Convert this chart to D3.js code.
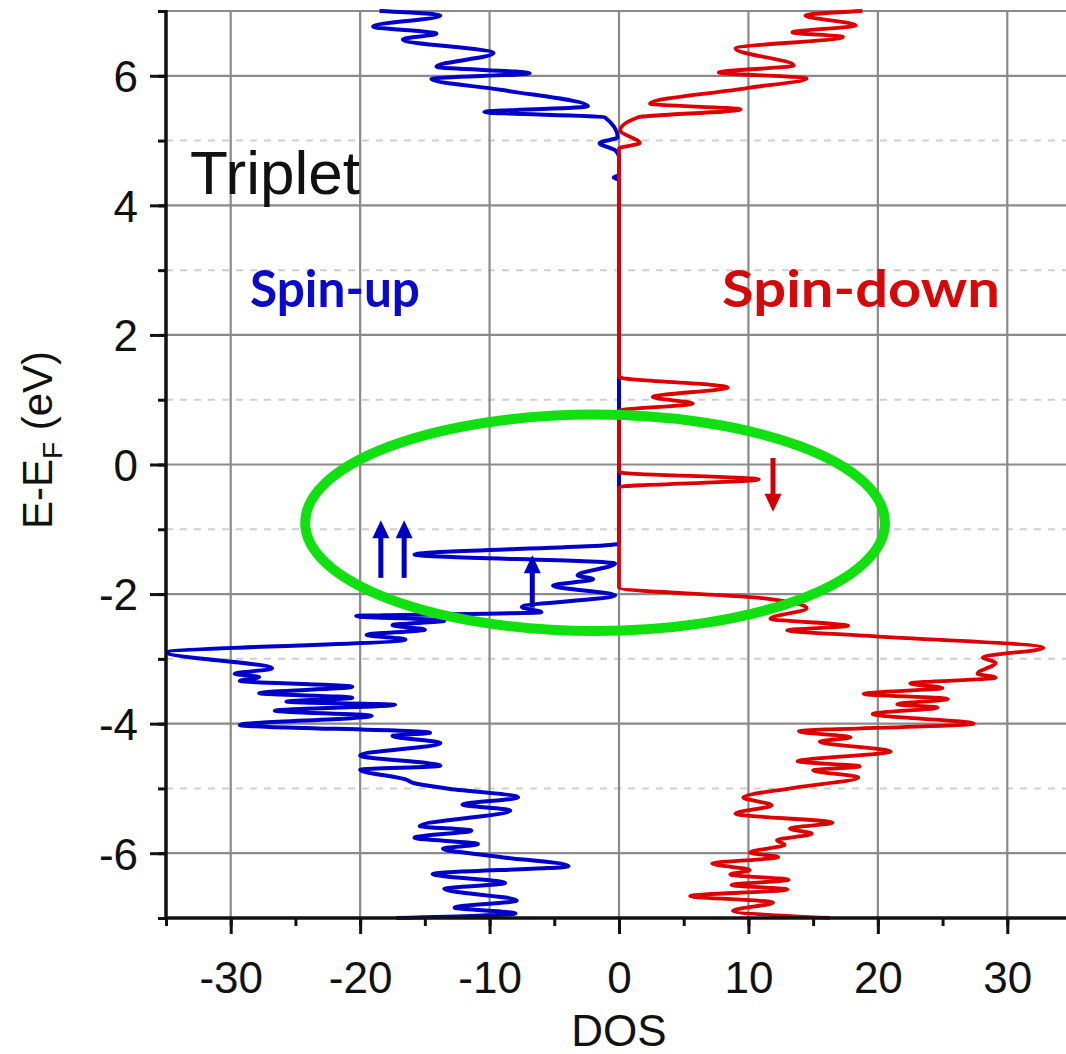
<!DOCTYPE html>
<html><head><meta charset="utf-8">
<script src="https://cdn.jsdelivr.net/npm/d3@7"></script>
<style>html,body{margin:0;padding:0;background:#fff;overflow:hidden}</style>
</head><body>
<svg id="chart" width="1066" height="1054"></svg>
<script>
// ---- data ----
const xTicks = [-30, -20, -10, 0, 10, 20, 30];
const yTicks = [-6, -4, -2, 0, 2, 4, 6];
const seriesNames = ["Spin-up", "Spin-down"];

const upEnergy = [7.00, 6.93, 6.76, 6.65, 6.56, 6.35, 6.14, 6.04, 5.95, 5.78, 5.53, 5.44, 5.36, 5.05, 4.96, 4.85, 4.75, 4.47, 4.43, 4.39,
  -1.22, -1.39, -1.53, -1.71, -1.77, -1.87, -2.02, -2.20, -2.28, -2.34, -2.41, -2.48, -2.55, -2.63, -2.70, -2.90,
  -3.15, -3.23, -3.28, -3.34, -3.43, -3.53, -3.60, -3.66, -3.71, -3.80, -3.88, -4.02, -4.14, -4.19, -4.30, -4.49,
  -4.65, -4.71, -4.86, -4.92, -5.00, -5.14, -5.25, -5.34, -5.58, -5.65, -5.76, -5.86, -5.93, -6.05, -6.20, -6.32,
  -6.46, -6.55, -6.73, -6.84, -6.93, -7.00];
const upDOS = [-18.5, -13.8, -19.0, -14.1, -16.7, -9.7, -14.1, -6.9, -14.5, -9.0, -2.4, -10.4, -1.1, -0.1, -1.5, -0.3, 0, 0, -0.4, 0,
  0, -15.8, -0.3, -3.2, -2.0, -5.1, -0.3, -7.5, -6.0, -20.3, -13.5, -17.5, -15.0, -19.5, -16.5, -34.9,
  -26.8, -29.7, -27.8, -29.3, -20.6, -27.8, -20.6, -25.7, -17.3, -26.6, -19.1, -29.3, -14.6, -17.5, -13.8, -20.0,
  -13.8, -20.0, -16.5, -15.8, -13.3, -7.8, -12.1, -8.4, -15.4, -11.4, -15.8, -10.9, -13.6, -9.5, -3.9, -14.4,
  -8.8, -13.5, -7.9, -12.7, -8.0, -17.2];

const downEnergy = [7.00, 6.93, 6.78, 6.67, 6.60, 6.42, 6.16, 6.05, 5.96, 5.81, 5.57, 5.48, 5.36, 5.16, 4.96, 4.88,
  1.35, 1.19, 1.04, 0.94, 0.83, -0.12, -0.23, -0.35, -1.90, -2.07, -2.22, -2.38, -2.49, -2.56, -2.64, -2.83,
  -2.98, -3.06, -3.23, -3.29, -3.38, -3.45, -3.54, -3.62, -3.70, -3.75, -3.85, -4.00, -4.12, -4.21, -4.28, -4.43,
  -4.58, -4.66, -4.72, -4.83, -4.99, -5.14, -5.26, -5.39, -5.53, -5.62, -5.70, -5.80, -5.87, -5.99, -6.06, -6.16,
  -6.26, -6.33, -6.41, -6.49, -6.56, -6.66, -6.76, -6.89, -7.00];
const downDOS = [18.8, 14.4, 18.3, 13.4, 17.3, 9.0, 13.5, 7.7, 14.5, 9.9, 2.4, 9.4, 1.5, 0.1, 1.6, 0,
  0, 8.4, 2.6, 5.7, 0, 0, 10.8, 0, 0, 11.4, 14.5, 11.7, 17.7, 13.0, 18.9, 32.8,
  28.1, 29.1, 27.7, 29.1, 22.5, 25.0, 18.9, 25.4, 21.5, 24.6, 19.6, 27.4, 13.9, 17.9, 15.5, 21.0,
  13.8, 18.6, 15.0, 18.5, 13.5, 9.6, 11.8, 9.0, 16.5, 13.2, 14.9, 12.2, 12.8, 10.1, 12.3, 7.2,
  10.1, 8.6, 13.1, 8.7, 13.0, 5.5, 11.9, 8.8, 16.3];

// annotation arrows: [dos, energy start, energy tip]
const upArrows = [[-18.4, -1.75, -0.86], [-16.6, -1.75, -0.86], [-6.7, -2.21, -1.40]];
const downArrows = [[11.9, 0.10, -0.73]];

// ---- layout ----
const svg = d3.select("#chart");
const x = d3.scaleLinear().domain([-35, 35]).range([166, 1072]);
const y = d3.scaleLinear().domain([7, -7]).range([11, 918]);
const FONT = "'Liberation Sans', Arial, sans-serif";
const blue = "#0000c8", red = "#dc0000";
const fmt = d => String(d);

const g = svg.append("g");

// minor dashed grid (odd energies)
g.selectAll(".minor").data(d3.range(-5, 6, 2)).join("line")
  .attr("x1", x(-35)).attr("x2", x(35)).attr("y1", d => y(d)).attr("y2", d => y(d))
  .attr("stroke", "#cfcfcf").attr("stroke-width", 2).attr("stroke-dasharray", "7,7");

// major grid
g.selectAll(".hg").data(yTicks.concat([7])).join("line")
  .attr("x1", x(-35)).attr("x2", x(35)).attr("y1", d => y(d)).attr("y2", d => y(d))
  .attr("stroke", "#8a8a8a").attr("stroke-width", 2.2);
g.selectAll(".vg").data(xTicks).join("line")
  .attr("x1", d => x(d)).attr("x2", d => x(d)).attr("y1", y(7)).attr("y2", y(-7))
  .attr("stroke", "#8a8a8a").attr("stroke-width", 2.2);

// curves
const line = d3.line().x(d => x(d[1])).y(d => y(d[0])).curve(d3.curveMonotoneY);
const upPts = upEnergy.map((e, i) => [e, upDOS[i]]);
const downPts = downEnergy.map((e, i) => [e, downDOS[i]]);
g.append("path").datum(upPts).attr("d", line).attr("fill", "none")
  .attr("stroke", blue).attr("stroke-width", 4).attr("stroke-linejoin", "round");
g.append("path").datum(downPts).attr("d", line).attr("fill", "none")
  .attr("stroke", red).attr("stroke-width", 3.8).attr("stroke-linejoin", "round");

// axes
const yAxis = d3.axisLeft(y).tickValues(yTicks).tickSize(16).tickFormat(fmt);
const yMinor = d3.axisLeft(y).tickValues(d3.range(-7, 8, 1)).tickSize(8).tickFormat("");
const xAxis = d3.axisBottom(x).tickValues(xTicks).tickSize(16).tickFormat(fmt);
const xMinor = d3.axisBottom(x).tickValues(d3.range(-35, 36, 5)).tickSize(8).tickFormat("");

function styleAxis(sel) {
  sel.select(".domain").remove();
  sel.selectAll("line").attr("stroke", "#111").attr("stroke-width", 3);
  sel.selectAll("text").attr("fill", "#111").style("font-family", FONT).style("font-size", "44px");
}
const gy = svg.append("g").attr("transform", `translate(${x(-35)},0)`).call(yMinor); styleAxis(gy);
const gy2 = svg.append("g").attr("transform", `translate(${x(-35)},0)`).call(yAxis); styleAxis(gy2);
gy2.selectAll("text").attr("x", -28).attr("dy", "0.36em");
const gx = svg.append("g").attr("transform", `translate(0,${y(-7)})`).call(xMinor); styleAxis(gx);
const gx2 = svg.append("g").attr("transform", `translate(0,${y(-7)})`).call(xAxis); styleAxis(gx2);
gx2.selectAll("text").attr("dy", null).attr("y", 75);

svg.append("line").attr("x1", x(-35)).attr("x2", x(-35)).attr("y1", y(7) - 1).attr("y2", y(-7))
  .attr("stroke", "#111").attr("stroke-width", 3.5);
svg.append("line").attr("x1", x(-35)).attr("x2", x(35)).attr("y1", y(-7)).attr("y2", y(-7))
  .attr("stroke", "#111").attr("stroke-width", 3.5);

// axis titles
svg.append("text").attr("x", x(0)).attr("y", 1046).attr("text-anchor", "middle")
  .style("font-family", FONT).style("font-size", "44px").attr("fill", "#111").text("DOS");
const yt = svg.append("text").attr("transform", "translate(52,440) rotate(-90)").attr("text-anchor", "middle")
  .style("font-family", FONT).style("font-size", "42px").attr("fill", "#111");
yt.append("tspan").text("E-E");
yt.append("tspan").attr("dy", 10).style("font-size", "28px").text("F");
yt.append("tspan").attr("dy", -10).text(" (eV)");

// labels
svg.append("text").attr("x", 190).attr("y", 194).style("font-family", FONT).style("font-size", "62px")
  .attr("fill", "#111").text("Triplet");
svg.append("text").attr("x", 250).attr("y", 307).style("font-family", "Lato, 'Open Sans', sans-serif")
  .style("font-weight", "bold").style("font-size", "51px").attr("fill", "#0a0ac8")
  .attr("textLength", 170).attr("lengthAdjust", "spacingAndGlyphs").text(seriesNames[0]);
svg.append("text").attr("x", 722).attr("y", 307).style("font-family", "Lato, 'Open Sans', sans-serif")
  .style("font-weight", "bold").style("font-size", "51px").attr("fill", "#d40a0a")
  .attr("textLength", 278).attr("lengthAdjust", "spacingAndGlyphs").text(seriesNames[1]);

// arrows
function arrow(d, color) {
  const xx = x(d[0]), y0 = y(d[1]), y1 = y(d[2]);
  const dir = y1 < y0 ? 1 : -1; // 1 = pointing up
  const head = 18;
  svg.append("line").attr("x1", xx).attr("x2", xx).attr("y1", y0).attr("y2", y1 + dir * head * 0.8)
    .attr("stroke", color).attr("stroke-width", 5);
  svg.append("path").attr("d", `M${xx},${y1} L${xx - 8.5},${y1 + dir * head} L${xx + 8.5},${y1 + dir * head} Z`)
    .attr("fill", color);
}
upArrows.forEach(d => arrow(d, "#0000c0"));
downArrows.forEach(d => arrow(d, "#d00000"));

// highlight ellipse
svg.append("ellipse").attr("cx", x(-1.85)).attr("cy", y(-0.9))
  .attr("rx", x(22.4) - x(0)).attr("ry", y(0) - y(1.67))
  .attr("fill", "none").attr("stroke", "#10e010").attr("stroke-width", 10);
</script>
</body></html>
